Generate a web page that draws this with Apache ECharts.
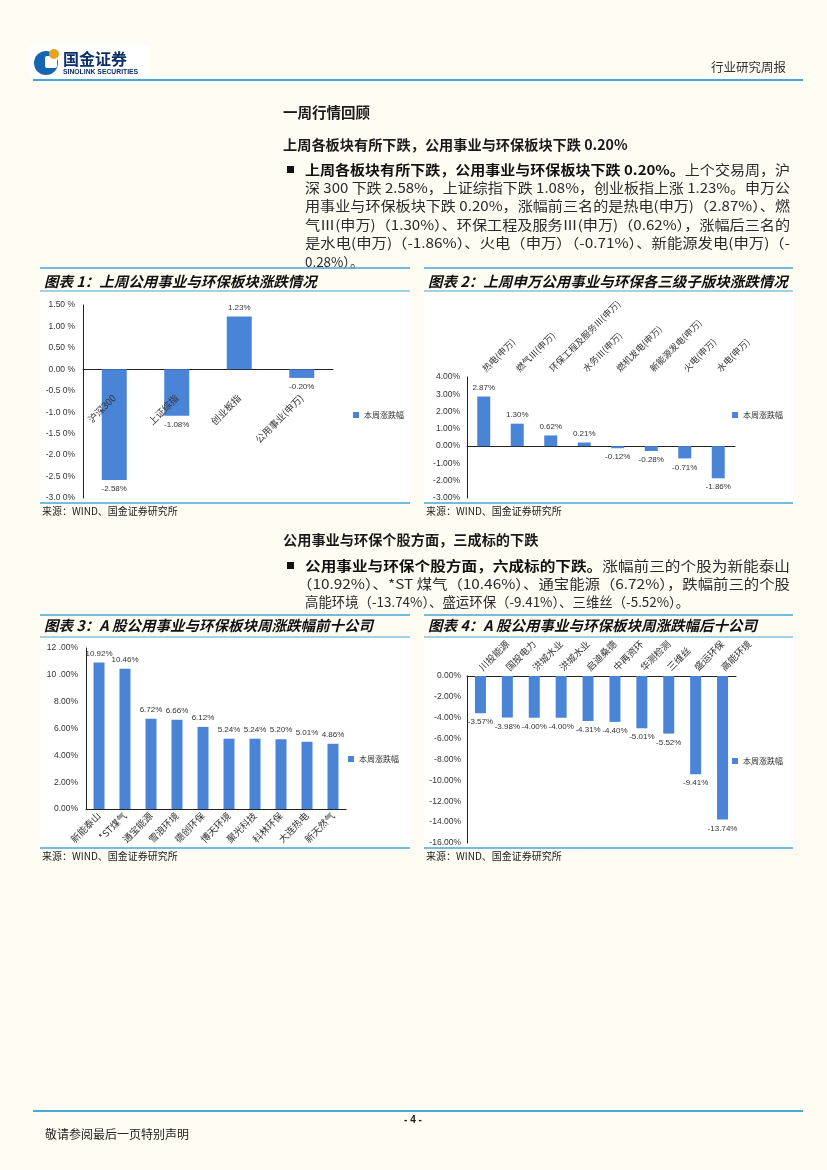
<!DOCTYPE html>
<html><head><meta charset="utf-8">
<script src="https://cdn.jsdelivr.net/npm/echarts@6/dist/echarts.min.js"></script>
<style>html,body{margin:0;padding:0;background:#fffcf3}#c{width:827px;height:1170px}</style>
</head><body><div id="c"></div>
<script>
// ---- Data ----
const c1Categories = ['沪深300', '上证综指', '创业板指', '公用事业(申万)'];
const c1Values = [-2.58, -1.08, 1.23, -0.20];
const c1TickLabels = ['-3.0 0%', '-2.5 0%', '-2.0 0%', '-1.5 0%', '-1.0 0%', '-0.5 0%', '0.00 %', '0.50 %', '1.00 %', '1.50 %'];

const c2Categories = ['热电(申万)', '燃气Ⅲ(申万)', '环保工程及服务Ⅲ(申万)', '水务Ⅲ(申万)', '燃机发电(申万)', '新能源发电(申万)', '火电(申万)', '水电(申万)'];
const c2Values = [2.87, 1.30, 0.62, 0.21, -0.12, -0.28, -0.71, -1.86];

const c3Categories = ['新能泰山', '*ST煤气', '通宝能源', '雪浪环境', '德创环保', '博天环境', '聚光科技', '科林环保', '大连热电', '新天然气'];
const c3Values = [10.92, 10.46, 6.72, 6.66, 6.12, 5.24, 5.24, 5.20, 5.01, 4.86];
const c3TickLabels = ['0.00%', '2.00%', '4.00%', '6.00%', '8.00%', '10 .00%', '12 .00%'];

const c4Categories = ['川投能源', '国投电力', '洪城水业', '洪城水业', '启迪桑德', '中再资环', '华测检测', '三维丝', '盛运环保', '高能环境'];
const c4Values = [-3.57, -3.98, -4.00, -4.00, -4.31, -4.40, -5.01, -5.52, -9.41, -13.74];

const seriesName = '本周涨跌幅';

// ---- Styles ----
const BAR = '#4a84d6';
const LINE = '#49a6d6';
const NUM_FONT = 'Liberation Sans, Arial, Noto Sans CJK SC, sans-serif';
const CJK_FONT = 'Noto Sans CJK SC, sans-serif';

const chart = echarts.init(document.getElementById('c'), null, {renderer: 'canvas'});

function pctLabel(v) { return v.toFixed(2) + '%'; }

const axisLabelStyle = {fontFamily: NUM_FONT, fontSize: 8.5, color: '#333'};
const catLabelStyle = {fontFamily: CJK_FONT, fontSize: 9.5, color: '#333'};

function barSeries(values, xi, yi, bw) {
  return {
    type: 'bar', name: seriesName, xAxisIndex: xi, yAxisIndex: yi,
    data: values, barWidth: bw, itemStyle: {color: BAR},
    label: {show: true, position: 'outside', distance: 5, formatter: p => pctLabel(p.value),
      fontFamily: NUM_FONT, fontSize: 8, color: '#333'},
    emphasis: {disabled: true}, animation: false
  };
}

function legend(left, top) {
  return {left: left, top: top, orient: 'vertical', icon: 'rect', itemWidth: 6, itemHeight: 6, itemGap: 4,
    data: [seriesName], textStyle: {fontFamily: CJK_FONT, fontSize: 8, color: '#333'}, selectedMode: false};
}

const yLine = {show: true, lineStyle: {color: '#222', width: 1}};

// ---- Graphic (page text & decoration) ----
const g = [];
function txt(x, y, text, size, opt) {
  opt = opt || {};
  const el = {type: 'text', x: x, y: y, silent: true, style: Object.assign({
    text: text, fontSize: size, fontFamily: opt.font || CJK_FONT, fill: opt.color || '#1a1a1a',
    fontWeight: opt.bold ? 'bold' : 'normal', fontStyle: opt.italic ? 'italic' : 'normal',
    textAlign: opt.align || 'left', textVerticalAlign: 'middle'}, opt.extra || {})};
  if (opt.scaleX) el.scaleX = opt.scaleX;
  g.push(el);
}
function hline(x1, x2, y, color, w) {
  g.push({type: 'line', silent: true, shape: {x1: x1, y1: y, x2: x2, y2: y}, style: {stroke: color, lineWidth: w}});
}
function rect(x, y, w, h, fill) {
  g.push({type: 'rect', silent: true, z: -10, shape: {x: x, y: y, width: w, height: h}, style: {fill: fill}});
}

// text measuring for justified paragraph lines
const mctx = document.createElement('canvas').getContext('2d');
function measureRich(line, size) {
  let w = 0;
  const re = /\{b\|(.*?)\}/g;
  let last = 0, m;
  while ((m = re.exec(line)) !== null) {
    mctx.font = 'normal ' + size + 'px ' + CJK_FONT;
    w += mctx.measureText(line.slice(last, m.index)).width;
    mctx.font = 'bold ' + size + 'px ' + CJK_FONT;
    w += mctx.measureText(m[1]).width;
    last = re.lastIndex;
  }
  mctx.font = 'normal ' + size + 'px ' + CJK_FONT;
  w += mctx.measureText(line.slice(last)).width;
  return w;
}

// header
rect(30, 46, 120, 32, '#ffffff');
g.push({type: 'circle', silent: true, shape: {cx: 46, cy: 63, r: 12}, style: {fill: '#1565b0'}});
g.push({type: 'rect', silent: true, shape: {x: 45, y: 56, width: 12, height: 12, r: 2}, style: {fill: '#ffffff'}});
g.push({type: 'circle', silent: true, shape: {cx: 54, cy: 54, r: 5}, style: {fill: '#e7a21f'}});
txt(63, 59, '国金证券', 16, {bold: true, color: '#0d2f6a'});
txt(63, 72, 'SINOLINK SECURITIES', 6.8, {bold: true, font: NUM_FONT, color: '#0d2f6a'});
txt(786, 67, '行业研究周报', 12.5, {align: 'right', color: '#333'});
hline(33, 803, 80, LINE, 2);

const BODY = 13.4;
const richB = {rich: {b: {fontWeight: 'bold', fontSize: BODY, fontFamily: CJK_FONT, fill: '#111'}}};

function paragraph(lines, xs, y0, dy, rightEdge) {
  lines.forEach((t, i) => {
    const s = i < lines.length - 1 ? (rightEdge - xs[i]) / measureRich(t, BODY) : 1;
    txt(xs[i], y0 + i * dy, t, BODY, {color: '#2a2a2a', extra: richB, scaleX: s});
  });
}

// section 1 text
txt(283, 112, '一周行情回顾', 14.5, {bold: true});
txt(283, 145, '上周各板块有所下跌，公用事业与环保板块下跌 0.20%', 14.2, {bold: true});
g.push({type: 'rect', silent: true, shape: {x: 287, y: 166, width: 7, height: 7}, style: {fill: '#111'}});
const para1 = [
  '{b|上周各板块有所下跌，公用事业与环保板块下跌 0.20%。}上个交易周，沪',
  '深 300 下跌 2.58%，上证综指下跌 1.08%，创业板指上涨 1.23%。申万公',
  '用事业与环保板块下跌 0.20%，涨幅前三名的是热电(申万)（2.87%）、燃',
  '气Ⅲ(申万)（1.30%）、环保工程及服务Ⅲ(申万)（0.62%），涨幅后三名的',
  '是水电(申万)（-1.86%）、火电（申万）（-0.71%）、新能源发电(申万)（-',
  '0.28%）。'
];
paragraph(para1, [305, 305, 305, 305, 305, 305], 169.5, 18.4, 790);

// section 2 text
txt(283, 540, '公用事业与环保个股方面，三成标的下跌', 14.2, {bold: true});
g.push({type: 'rect', silent: true, shape: {x: 287, y: 562, width: 7, height: 7}, style: {fill: '#111'}});
const para2 = [
  '{b|公用事业与环保个股方面，六成标的下跌。}涨幅前三的个股为新能泰山',
  '（10.92%）、*ST 煤气（10.46%）、通宝能源（6.72%），跌幅前三的个股',
  '高能环境（-13.74%）、盛运环保（-9.41%）、三维丝（-5.52%）。'
];
paragraph(para2, [305, 297, 305], 566, 18, 790);

// chart panels
function panel(x1, x2, yTop, yTitle, yUnder, yBottom, title) {
  hline(x1, x2, yTop, LINE, 1.5);
  txt(x1 + 4, yTitle, title, 14.5, {bold: true, italic: true, color: '#111'});
  hline(x1, x2, yUnder, LINE, 1.2);
  rect(x1, yUnder + 1, x2 - x1, yBottom - yUnder - 1, '#ffffff');
  hline(x1, x2, yBottom, LINE, 1.5);
  txt(x1 + 2, yBottom + 8.5, '来源：WIND、国金证券研究所', 10, {color: '#222'});
}
panel(40, 410, 268, 281, 291, 503, '图表 1：上周公用事业与环保板块涨跌情况');
panel(424, 793, 268, 281, 291, 503, '图表 2：上周申万公用事业与环保各三级子版块涨跌情况');
panel(40, 410, 615, 625, 637, 848, '图表 3：A 股公用事业与环保板块周涨跌幅前十公司');
panel(424, 793, 615, 625, 637, 848, '图表 4：A 股公用事业与环保板块周涨跌幅后十公司');

// footer
hline(33, 803, 1111, LINE, 2);
txt(413, 1120, '- 4 -', 10, {bold: true, align: 'center', font: NUM_FONT});
txt(45, 1134, '敬请参阅最后一页特别声明', 12, {color: '#222'});

// ---- Layout of chart 1 (label axis sits on the zero line) ----
const g1 = {left: 83, top: 305, width: 250, height: 193};
const y1Min = -3, y1Max = 1.5;
const g1ZeroFromBottom = g1.height * (0 - y1Min) / (y1Max - y1Min);

const TOP_ROT = -45;

// ---- Option ----
const option = {
  backgroundColor: '#fffcf3',
  animation: false,
  textStyle: {fontFamily: NUM_FONT},
  grid: [
    g1,
    {left: 467, top: 377, width: 268, height: 121},
    {left: 86, top: 648, width: 260, height: 161},
    {left: 467, top: 676, width: 269, height: 167}
  ],
  legend: [legend(348, 406), legend(727, 406), legend(343, 750), legend(727, 752)],
  xAxis: [
    {gridIndex: 0, type: 'category', data: c1Categories, axisLine: {onZero: true, lineStyle: {color: '#222'}}, axisTick: {show: false},
      axisLabel: {show: false}},
    {gridIndex: 1, type: 'category', data: c2Categories, position: 'top', axisLine: {show: false, onZero: false}, axisTick: {show: false},
      axisLabel: Object.assign({rotate: TOP_ROT, margin: 7, interval: 0}, catLabelStyle, {fontSize: 9})},
    {gridIndex: 1, type: 'category', data: c2Categories, position: 'bottom', axisLine: {onZero: true, lineStyle: {color: '#222'}}, axisTick: {show: false},
      axisLabel: {show: false}},
    {gridIndex: 2, type: 'category', data: c3Categories, axisLine: {lineStyle: {color: '#222'}}, axisTick: {show: false},
      axisLabel: Object.assign({rotate: 45, margin: 5, interval: 0}, catLabelStyle)},
    {gridIndex: 3, type: 'category', data: c4Categories, position: 'top', axisLine: {onZero: false, lineStyle: {color: '#222'}}, axisTick: {show: false},
      axisLabel: Object.assign({rotate: TOP_ROT, margin: 7, interval: 0}, catLabelStyle)},
    {gridIndex: 0, type: 'category', data: c1Categories, position: 'bottom', offset: -g1ZeroFromBottom, z: 10,
      axisLine: {show: false, onZero: false}, axisTick: {show: false},
      axisLabel: Object.assign({rotate: 45, margin: 27, interval: 0}, catLabelStyle)}
  ],
  yAxis: [
    {gridIndex: 0, type: 'value', min: y1Min, max: y1Max, interval: 0.5, axisLine: yLine, axisTick: {show: false}, splitLine: {show: false},
      axisLabel: Object.assign({margin: 8, formatter: (v) => c1TickLabels[Math.round((v - y1Min) / 0.5)]}, axisLabelStyle)},
    {gridIndex: 1, type: 'value', min: -3, max: 4, interval: 1, axisLine: yLine, axisTick: {show: false}, splitLine: {show: false},
      axisLabel: Object.assign({margin: 7, formatter: (v) => v.toFixed(2) + '%'}, axisLabelStyle)},
    {gridIndex: 2, type: 'value', min: 0, max: 12, interval: 2, axisLine: yLine, axisTick: {show: false}, splitLine: {show: false},
      axisLabel: Object.assign({margin: 8, formatter: (v) => c3TickLabels[Math.round(v / 2)]}, axisLabelStyle)},
    {gridIndex: 3, type: 'value', min: -16, max: 0, interval: 2, axisLine: yLine, axisTick: {show: false}, splitLine: {show: false},
      axisLabel: Object.assign({margin: 6, formatter: (v) => v.toFixed(2) + '%'}, axisLabelStyle)}
  ],
  series: [
    barSeries(c1Values, 0, 0, 25),
    barSeries(c2Values, 1, 1, 13),
    barSeries(c3Values, 3, 2, 11),
    barSeries(c4Values, 4, 3, 11)
  ],
  graphic: g
};
chart.setOption(option);
</script>
</body></html>
